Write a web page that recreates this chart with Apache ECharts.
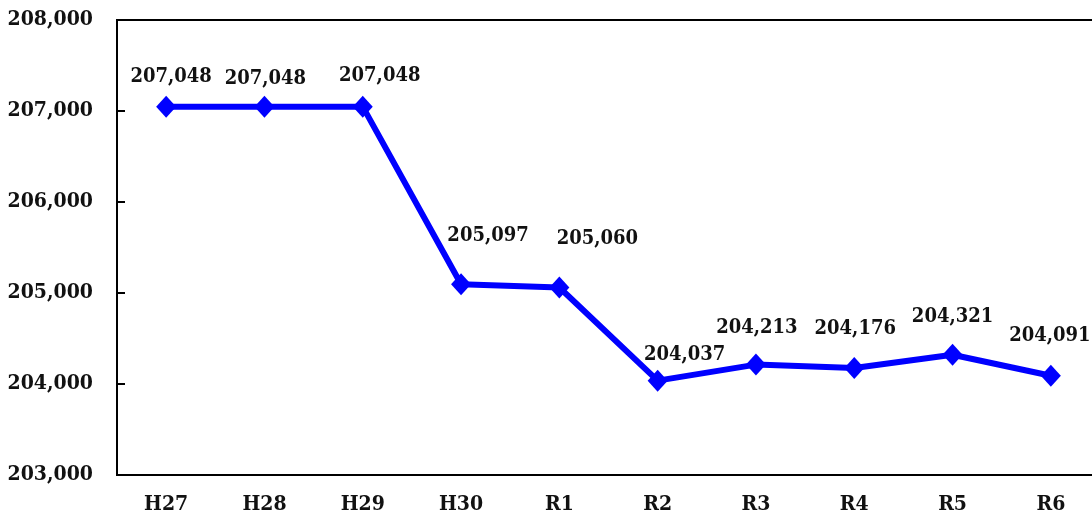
<!DOCTYPE html>
<html>
<head>
<meta charset="utf-8">
<script src="https://cdn.jsdelivr.net/npm/echarts@6/dist/echarts.min.js"></script>
<style>
html,body{margin:0;padding:0;background:#fff;}
#chart{width:1092px;height:522px;}
</style>
</head>
<body>
<div id="chart"></div>
<script>
const categories = ['H27','H28','H29','H30','R1','R2','R3','R4','R5','R6'];
const values = [207048, 207048, 207048, 205097, 205060, 204037, 204213, 204176, 204321, 204091];
const yTicks = [203000, 204000, 205000, 206000, 207000, 208000];

// label placement tweaks (pixels) to mirror the reference layout
const labelDx = [5, 1, 17, 27, 38, 27, 1, 1, 0, -1];
const labelDy = [-9, -7, -10, -27, -28, -5, -16, -18, -17, -19];

const fmt = v => String(v).replace(/\B(?=(\d{3})+(?!\d))/g, ',');
const font = '"DejaVu Serif Condensed", "DejaVu Serif", serif';

const chart = echarts.init(document.getElementById('chart'), null, {renderer: 'canvas'});
chart.setOption({
  animation: false,
  backgroundColor: '#ffffff',
  grid: {
    left: 117, top: 20, width: 983, bottom: 47,
    outerBoundsMode: 'none',
    containLabel: false,
    show: true, borderColor: '#000', borderWidth: 2, backgroundColor: 'transparent'
  },
  xAxis: {
    type: 'category',
    data: categories,
    boundaryGap: true,
    axisLine: {lineStyle: {color: '#000', width: 2}},
    axisTick: {inside: true, length: 8, lineStyle: {color: '#000', width: 2}},
    axisLabel: {color: '#111', fontFamily: font, fontWeight: 'bold', fontSize: 21, margin: 19}
  },
  yAxis: {
    type: 'value',
    min: yTicks[0],
    max: yTicks[yTicks.length - 1],
    interval: yTicks[1] - yTicks[0],
    axisLine: {show: true, lineStyle: {color: '#000', width: 2}},
    axisTick: {show: true, inside: true, length: 8, lineStyle: {color: '#000', width: 2}},
    splitLine: {show: false},
    axisLabel: {color: '#111', fontFamily: font, fontWeight: 'bold', fontSize: 21, margin: 24, formatter: v => fmt(v)}
  },
  series: [{
    type: 'line',
    data: values.map((v, i) => ({
      value: v,
      label: {offset: [labelDx[i], labelDy[i]]}
    })),
    symbol: 'diamond',
    symbolSize: [20, 22],
    lineStyle: {color: '#0000ff', width: 6},
    itemStyle: {color: '#0000ff'},
    label: {
      show: true,
      position: 'top',
      distance: 0,
      color: '#111',
      fontFamily: font,
      fontWeight: 'bold',
      fontSize: 20,
      formatter: p => fmt(p.value)
    }
  }]
});
</script>
</body>
</html>
